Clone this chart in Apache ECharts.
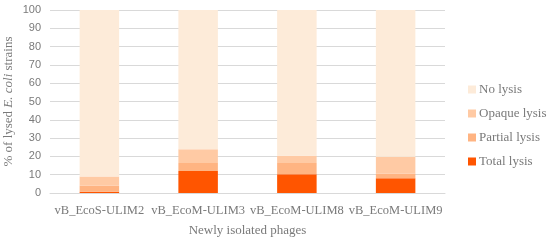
<!DOCTYPE html>
<html>
<head>
<meta charset="utf-8">
<script src="https://cdn.jsdelivr.net/npm/echarts@6/dist/echarts.min.js"></script>
<style>
  html, body { margin: 0; padding: 0; background: #fff; }
  #main { width: 550px; height: 242px; }
</style>
</head>
<body>
<div id="main"></div>
<script>
var phages = ['vB_EcoS-ULIM2', 'vB_EcoM-ULIM3', 'vB_EcoM-ULIM8', 'vB_EcoM-ULIM9'];
var totalLysis = [0.7, 12, 10.2, 8];
var partialLysis = [3.3, 4.4, 6.2, 2.5];
var opaqueLysis = [5, 7.5, 4, 9.3];
var noLysis = [91, 76.1, 79.6, 80.2];
var yTicks = [0, 10, 20, 30, 40, 50, 60, 70, 80, 90, 100];

var font = 'Liberation Serif';
var grey = '#7a7a7a';

var chart = echarts.init(document.getElementById('main'));

function bar(name, data, color) {
  return {
    name: name,
    type: 'bar',
    stack: 'all',
    barWidth: '40%',
    data: data,
    itemStyle: { color: color }
  };
}

chart.setOption({
  animation: false,
  textStyle: { fontFamily: font },
  grid: { left: 50, right: 105, top: 10, bottom: 49, outerBoundsMode: 'none', containLabel: false },
  legend: {
    orient: 'vertical',
    left: 463,
    top: 78,
    itemWidth: 8,
    itemHeight: 8,
    itemGap: 11,
    icon: 'rect',
    data: ['No lysis', 'Opaque lysis', 'Partial lysis', 'Total lysis'],
    textStyle: { fontFamily: font, fontSize: 13, color: grey, padding: [0, 0, 0, -2] }
  },
  xAxis: {
    type: 'category',
    data: phages,
    name: 'Newly isolated phages',
    nameLocation: 'middle',
    nameGap: 31,
    nameMoveOverlap: false,
    nameTextStyle: { fontFamily: font, fontSize: 13, color: grey },
    axisLine: { lineStyle: { color: '#d9d9d9' } },
    axisTick: { show: false },
    axisLabel: { fontFamily: font, fontSize: 12.5, color: grey, margin: 11, interval: 0 }
  },
  yAxis: {
    type: 'value',
    min: 0,
    max: 100,
    interval: 10,
    name: '% of lysed {i|E. coli} strains',
    nameLocation: 'middle',
    nameGap: 35,
    nameMoveOverlap: false,
    nameTextStyle: {
      fontFamily: font, fontSize: 13, color: grey,
      rich: { i: { fontFamily: font, fontSize: 13, color: grey, fontStyle: 'italic' } }
    },
    axisLine: { show: false },
    axisTick: { show: false },
    splitLine: { lineStyle: { color: '#d9d9d9' } },
    axisLabel: {
      fontFamily: 'Liberation Sans', fontSize: 11, color: grey, margin: 9,
      formatter: function (v) { return yTicks.indexOf(v) >= 0 ? String(v) : ''; }
    }
  },
  series: [
    bar('Total lysis', totalLysis, '#ff5500'),
    bar('Partial lysis', partialLysis, '#ffb482'),
    bar('Opaque lysis', opaqueLysis, '#ffcaa4'),
    bar('No lysis', noLysis, '#fdebd9')
  ]
});
</script>
</body>
</html>
